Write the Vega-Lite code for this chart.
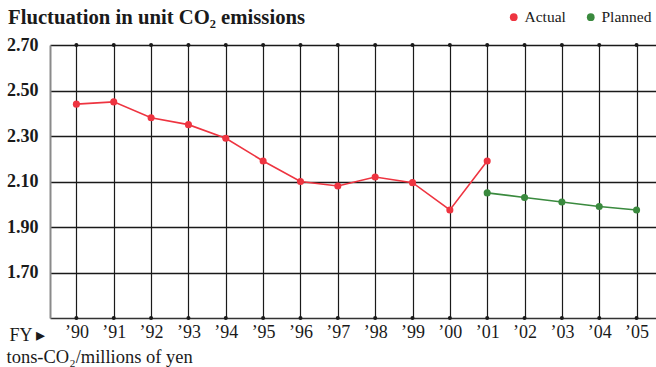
{
  "$schema": "https://vega.github.io/schema/vega-lite/v6.json",
  "width": 606,
  "height": 273,
  "autosize": "none",
  "padding": {"left": 50, "top": 45, "right": 0, "bottom": 49},
  "background": "white",
  "config": {
    "font": "Liberation Serif",
    "view": {"stroke": null}
  },
  "title": {
    "text": "Fluctuation in unit CO₂ emissions",
    "anchor": "start",
    "frame": "group",
    "dx": -42,
    "dy": 29,
    "offset": 9,
    "font": "Liberation Serif",
    "fontSize": 20.7,
    "fontWeight": "bold",
    "color": "#1a1a1a"
  },
  "datasets": {
    "emissions": [
      {"year": 1990, "value": 2.44, "series": "Actual"},
      {"year": 1991, "value": 2.45, "series": "Actual"},
      {"year": 1992, "value": 2.38, "series": "Actual"},
      {"year": 1993, "value": 2.35, "series": "Actual"},
      {"year": 1994, "value": 2.29, "series": "Actual"},
      {"year": 1995, "value": 2.19, "series": "Actual"},
      {"year": 1996, "value": 2.10, "series": "Actual"},
      {"year": 1997, "value": 2.08, "series": "Actual"},
      {"year": 1998, "value": 2.12, "series": "Actual"},
      {"year": 1999, "value": 2.095, "series": "Actual"},
      {"year": 2000, "value": 1.975, "series": "Actual"},
      {"year": 2001, "value": 2.19, "series": "Actual"},
      {"year": 2001, "value": 2.05, "series": "Planned"},
      {"year": 2002, "value": 2.03, "series": "Planned"},
      {"year": 2003, "value": 2.01, "series": "Planned"},
      {"year": 2004, "value": 1.99, "series": "Planned"},
      {"year": 2005, "value": 1.975, "series": "Planned"}
    ],
    "years": [
      {"year": 1990}, {"year": 1991}, {"year": 1992}, {"year": 1993},
      {"year": 1994}, {"year": 1995}, {"year": 1996}, {"year": 1997},
      {"year": 1998}, {"year": 1999}, {"year": 2000}, {"year": 2001},
      {"year": 2002}, {"year": 2003}, {"year": 2004}, {"year": 2005}
    ]
  },
  "layer": [
    {
      "data": {"name": "years"},
      "mark": {"type": "point", "filled": true, "color": "#1a1a1a", "size": 16, "opacity": 1},
      "encoding": {
        "x": {
          "field": "year",
          "type": "quantitative",
          "scale": {"domain": [1989.293, 2005.52], "nice": false, "zero": false},
          "axis": {
            "values": [1990, 1991, 1992, 1993, 1994, 1995, 1996, 1997, 1998, 1999, 2000, 2001, 2002, 2003, 2004, 2005],
            "labelExpr": "'’' + substring(toString(datum.value), 2, 4)",
            "labelFont": "Liberation Serif",
            "labelFontSize": 18,
            "labelColor": "#1a1a1a",
            "labelPadding": 5,
            "labelFlush": false,
            "labelOverlap": false,
            "ticks": false,
            "grid": true,
            "gridColor": "#1a1a1a",
            "gridWidth": 1.2,
            "domain": true,
            "domainColor": "#333333",
            "domainWidth": 1.6,
            "title": "tons-CO₂/millions of yen",
            "titleFont": "Liberation Serif",
            "titleFontSize": 18.5,
            "titleFontWeight": "normal",
            "titleColor": "#1a1a1a",
            "titleAnchor": "start",
            "titleAlign": "left",
            "titleBaseline": "alphabetic",
            "titleX": -44,
            "titleY": 44
          }
        },
        "y": {"datum": 2.7, "type": "quantitative"}
      }
    },
    {
      "data": {"name": "years"},
      "mark": {"type": "point", "filled": true, "color": "#1a1a1a", "size": 16, "opacity": 1},
      "encoding": {
        "x": {"field": "year", "type": "quantitative"},
        "y": {"datum": 1.5, "type": "quantitative"}
      }
    },
    {
      "data": {"name": "emissions"},
      "mark": {"type": "line", "strokeWidth": 1.6},
      "encoding": {
        "x": {"field": "year", "type": "quantitative"},
        "y": {
          "field": "value",
          "type": "quantitative",
          "scale": {"domain": [1.5, 2.7], "nice": false, "zero": false},
          "axis": {
            "values": [1.7, 1.9, 2.1, 2.3, 2.5, 2.7],
            "format": ".2f",
            "labelFont": "Liberation Serif",
            "labelFontSize": 18,
            "labelFontWeight": "bold",
            "labelColor": "#1a1a1a",
            "labelPadding": 12,
            "labelFlush": false,
            "ticks": false,
            "grid": true,
            "gridColor": "#1a1a1a",
            "gridWidth": 1.4,
            "domain": true,
            "domainColor": "#8a8a8a",
            "domainWidth": 2,
            "title": "FY ▸",
            "titleFont": "Liberation Serif",
            "titleFontSize": 18,
            "titleFontWeight": "normal",
            "titleColor": "#1a1a1a",
            "titleAngle": 0,
            "titleAlign": "left",
            "titleBaseline": "alphabetic",
            "titleX": -41,
            "titleY": 295
          }
        },
        "color": {
          "field": "series",
          "type": "nominal",
          "scale": {"domain": ["Actual", "Planned"], "range": ["#ee3440", "#3a8a3e"]},
          "legend": {
            "title": null,
            "orient": "none",
            "direction": "horizontal",
            "legendX": 456,
            "legendY": -36,
            "symbolType": "circle",
            "symbolSize": 60,
            "symbolStrokeWidth": 0,
            "labelFont": "Liberation Serif",
            "labelFontSize": 15.5,
            "labelColor": "#1a1a1a",
            "labelOffset": 3,
            "columnPadding": 17,
            "padding": 0
          }
        }
      }
    },
    {
      "data": {"name": "emissions"},
      "mark": {"type": "point", "filled": true, "size": 50, "opacity": 1},
      "encoding": {
        "x": {"field": "year", "type": "quantitative"},
        "y": {"field": "value", "type": "quantitative"},
        "color": {"field": "series", "type": "nominal"}
      }
    }
  ]
}
